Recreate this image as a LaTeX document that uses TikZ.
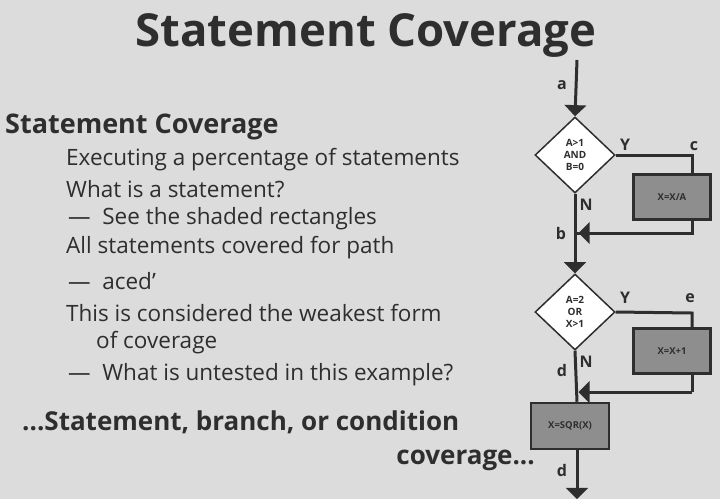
\documentclass[tikz,border=0pt]{standalone}
\usepackage{fontspec}
\setmainfont{Open Sans}
\usetikzlibrary{arrows, shapes.geometric}
\definecolor{bg}{HTML}{DCDCDC}
\definecolor{ink}{HTML}{2E2E2E}
\definecolor{shade}{HTML}{8E8E8E}
\tikzset{
	stmt/.style={draw=ink, line width=2.5pt, fill=shade, rectangle, minimum width=77pt, minimum height=45pt, font=\fontsize{9.5}{10}\selectfont\bfseries, text=ink},
	cond/.style={draw=ink, line width=1.5pt, fill=white, diamond, aspect=1.05, minimum width=80pt, minimum height=76pt, inner sep=0pt, align=center, font=\fontsize{10}{12}\selectfont\bfseries, text=ink},
	lbl/.style={font=\fontsize{16}{16}\selectfont\bfseries, text=ink},
	item/.style={anchor=west, font=\fontsize{22.5}{22.5}\selectfont, text=ink, inner sep=0pt},
	flow/.style={draw=ink, line width=3pt},
	arr/.style={flow, -triangle 90}
}
\begin{document}
\begin{tikzpicture}[x=1pt, y=-1pt]
	\fill[bg] (0,0) rectangle (720,499);
	\useasboundingbox (0,0) rectangle (720,499);
	
	\node (title) at (366,35) [font=\fontsize{45.5}{45.5}\selectfont\bfseries, text=ink] {Statement Coverage};
	\node (head) at (5,127) [item, font=\fontsize{27}{27}\selectfont\bfseries] {Statement Coverage};
	\node (l1) at (66,160) [item] {Executing a percentage of statements};
	\node (l2) at (66,189) [item] {What is a statement?};
	\node (l3) at (68,219) [item] {—\ \ See the shaded rectangles};
	\node (l4) at (66,248) [item] {All statements covered for path};
	\node (l5) at (68,281) [item] {—\ \ aced'};
	\node (l6) at (66,313) [item] {This is considered the weakest form};
	\node (l7) at (96,343) [item] {of coverage};
	\node (l8) at (68,375) [item] {—\ \ What is untested in this example?};
	\node (s1) at (22,422) [item, font=\fontsize{26}{26}\selectfont\bfseries] {...Statement, branch, or condition};
	\node (s2) at (535,460) [item, anchor=east, font=\fontsize{26}{26}\selectfont\bfseries] {coverage...};
	
	% flowchart
	\coordinate (top) at (577,60);
	\node (d1) at (575,155) [cond] {A>1\\AND\\B=0};
	\node (b1) at (672,197) [stmt] {X=X/A};
	\coordinate (c1) at (692,155);
	\coordinate (c2) at (692,233);
	\coordinate (j1) at (577,233);
	\node (d2) at (575,312) [cond] {A=2\\OR\\X>1};
	\node (b2) at (672,351) [stmt] {X=X+1};
	\coordinate (e1) at (692,313);
	\coordinate (e2) at (692,392);
	\coordinate (j2) at (577,392);
	\node (b3) at (570,426) [stmt, minimum width=78pt, minimum height=46pt] {X=SQR(X)};
	\coordinate (bot) at (577,499);
	
	\draw[arr] (top) -- (d1.north);
	\draw[flow] (d1.east) -- (c1) -- (b1.north -| c1);
	\draw[flow] (b1.south -| c2) -- (c2) -- (j1);
	\draw[arr] (c2) -- ([xshift=1.5pt]j1);
	\draw[arr] (d1.south) -- (d2.north);
	\draw[flow] (d2.east) -- (e1) -- (b2.north -| e1);
	\draw[flow] (b2.south -| e2) -- (e2);
	\draw[arr] (e2) -- ([xshift=1.5pt]j2);
	\draw[flow] (d2.south) -- (b3.north -| j2);
	\draw[arr] (b3.south -| bot) -- (bot);
	
	\node (la) at (562,85) [lbl] {a};
	\node (ly1) at (625,145) [lbl] {Y};
	\node (lc) at (694,146) [lbl] {c};
	\node (ln1) at (586,205) [lbl] {N};
	\node (lb) at (561,233) [lbl] {b};
	\node (ly2) at (625,298) [lbl] {Y};
	\node (le) at (690,298) [lbl] {e};
	\node (ln2) at (586,362) [lbl] {N};
	\node (ld1) at (562,370) [lbl] {d};
	\node (ld2) at (562,470) [lbl] {d};
\end{tikzpicture}
\end{document}
